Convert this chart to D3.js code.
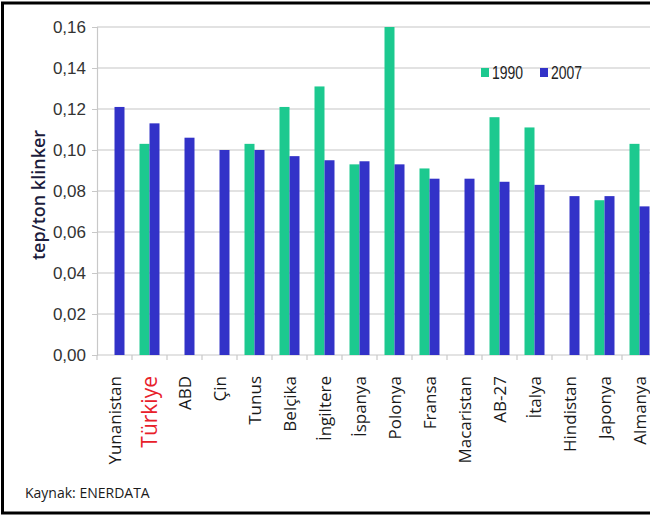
<!DOCTYPE html>
<html>
<head>
<meta charset="utf-8">
<script src="https://cdn.jsdelivr.net/npm/d3@7"></script>
<style>
  html, body { margin: 0; padding: 0; background: #fff; }
  svg { display: block; }
</style>
</head>
<body>
<svg id="chart" width="650" height="515"></svg>
<script>
// Clinker energy intensity by country (tep per ton of clinker)
const countries = ["Yunanistan", "Türkiye", "ABD", "Çin", "Tunus", "Belçika", "İngiltere", "İspanya",
  "Polonya", "Fransa", "Macaristan", "AB-27", "İtalya", "Hindistan", "Japonya", "Almanya"];
const values1990 = [null, 0.103, null, null, 0.103, 0.121, 0.131, 0.093,
  0.160, 0.091, null, 0.116, 0.111, null, 0.0755, 0.103];
const values2007 = [0.121, 0.113, 0.106, 0.100, 0.100, 0.097, 0.095, 0.0945,
  0.093, 0.086, 0.086, 0.0845, 0.083, 0.0775, 0.0775, 0.0725];
const seriesNames = ["1990", "2007"];
const yTicks = [0, 0.02, 0.04, 0.06, 0.08, 0.10, 0.12, 0.14, 0.16];
const highlight = "Türkiye";

const colors = { "1990": "#1cc98f", "2007": "#3232c8" };

const svg = d3.select("#chart");
const W = 650, H = 515;
const plotLeft = 97, plotTop = 27, plotBottom = 355;
const bandW = 35;

const x = d3.scaleBand().domain(countries).range([plotLeft, plotLeft + bandW * countries.length]).padding(0);
const y = d3.scaleLinear().domain([0, 0.16]).range([plotBottom, plotTop]);
const barW = 10;

// gridlines
svg.append("g").selectAll("line").data(yTicks.filter(t => t > 0)).join("line")
  .attr("x1", plotLeft).attr("x2", W)
  .attr("y1", d => y(d)).attr("y2", d => y(d))
  .attr("stroke", "#d9d9d9").attr("stroke-width", 1.5);

// y axis
const fmt = d => d3.format(".2f")(d).replace(".", ",");
const yAxis = svg.append("g").attr("transform", `translate(${plotLeft},0)`)
  .call(d3.axisLeft(y).tickValues(yTicks).tickFormat(fmt).tickSize(5).tickPadding(6));
yAxis.select(".domain").attr("stroke", "#c8c8c8").attr("stroke-width", 1.2);
yAxis.selectAll(".tick line").attr("stroke", "#c8c8c8");
yAxis.selectAll(".tick text")
  .attr("font-family", "'Liberation Sans', Arial, sans-serif")
  .attr("font-size", 17).attr("fill", "#333");

// x axis
svg.append("line").attr("x1", plotLeft).attr("x2", W).attr("y1", plotBottom).attr("y2", plotBottom)
  .attr("stroke", "#c8c8c8").attr("stroke-width", 1.2);
svg.append("g").selectAll("line").data(countries).join("line")
  .attr("x1", d => x(d)).attr("x2", d => x(d))
  .attr("y1", plotBottom).attr("y2", plotBottom + 5)
  .attr("stroke", "#c8c8c8").attr("stroke-width", 1.2);

// bars
const rows = countries.map((c, i) => ({ c, v1990: values1990[i], v2007: values2007[i] }));
svg.append("g").selectAll("rect").data(rows.filter(r => r.v1990 != null)).join("rect")
  .attr("x", r => x(r.c) + x.bandwidth() / 2 - barW)
  .attr("width", barW)
  .attr("y", r => y(r.v1990))
  .attr("height", r => y(0) - y(r.v1990))
  .attr("fill", colors["1990"]);
svg.append("g").selectAll("rect").data(rows).join("rect")
  .attr("x", r => x(r.c) + x.bandwidth() / 2)
  .attr("width", barW)
  .attr("y", r => y(r.v2007))
  .attr("height", r => y(0) - y(r.v2007))
  .attr("fill", colors["2007"]);

// category labels, rotated
svg.append("g").selectAll("text").data(countries).join("text")
  .attr("transform", d => `translate(${x(d) + x.bandwidth() / 2 + (d === highlight ? 7 : 6)},376) rotate(-90)`)
  .attr("text-anchor", "end")
  .attr("font-family", "'Open Sans', sans-serif")
  .attr("font-size", d => d === highlight ? 21 : 17)
  .attr("fill", d => d === highlight ? "#e8202a" : "#1a1a1a")
  .text(d => d);

// y axis title
svg.append("text")
  .attr("transform", "translate(45,195) rotate(-90)")
  .attr("text-anchor", "middle")
  .attr("font-family", "'Open Sans', sans-serif")
  .attr("font-weight", 600)
  .attr("font-size", 18)
  .attr("fill", "#1c1c3c")
  .text("tep/ton klinker");

// legend
const legend = svg.append("g");
const legendX = [481, 540];
seriesNames.forEach((s, i) => {
  legend.append("rect").attr("x", legendX[i]).attr("y", 68).attr("width", 8).attr("height", 9)
    .attr("fill", colors[s]);
  legend.append("text").attr("x", legendX[i] + 11).attr("y", 79)
    .attr("font-family", "'Liberation Sans', Arial, sans-serif")
    .attr("font-size", 18)
    .attr("textLength", 31).attr("lengthAdjust", "spacingAndGlyphs")
    .attr("fill", "#222")
    .text(s);
});

// source note
svg.append("text").attr("x", 25).attr("y", 498)
  .attr("font-family", "'Open Sans', sans-serif")
  .attr("font-size", 14).attr("fill", "#1a1a1a")
  .text("Kaynak: ENERDATA");

// frame
svg.append("path")
  .attr("d", `M${W},3 L2.5,3 L2.5,${H - 2} L${W},${H - 2}`)
  .attr("fill", "none").attr("stroke", "#000").attr("stroke-width", 3);
</script>
</body>
</html>
